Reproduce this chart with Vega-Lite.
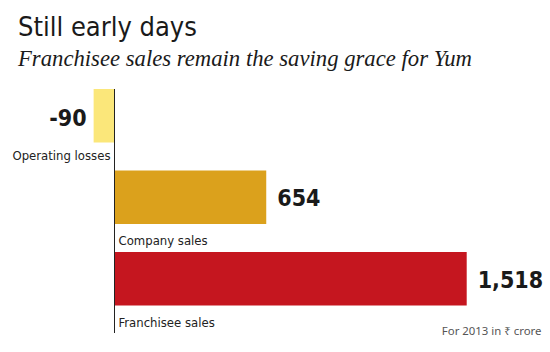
{
  "$schema": "https://vega.github.io/schema/vega-lite/v6.json",
  "width": 550,
  "height": 244,
  "autosize": {"type": "none"},
  "padding": {"left": 0, "top": 89, "right": 0, "bottom": 19},
  "background": "white",
  "title": {
    "text": "Still early days",
    "subtitle": "Franchisee sales remain the saving grace for Yum",
    "anchor": "start",
    "frame": "group",
    "dx": 18,
    "offset": 17,
    "font": "DejaVu Sans Condensed",
    "fontSize": 27,
    "fontWeight": "normal",
    "color": "#1a1a1a",
    "subtitleFont": "Liberation Serif",
    "subtitleFontStyle": "italic",
    "subtitleFontSize": 22.7,
    "subtitleColor": "#1a1a1a",
    "subtitlePadding": 6
  },
  "config": {
    "view": {"stroke": null},
    "locale": {
      "number": {"decimal": ".", "thousands": ",", "grouping": [3], "currency": ["", ""], "minus": "-"}
    }
  },
  "data": {
    "values": [
      {"category": "Operating losses", "value": -90},
      {"category": "Company sales", "value": 654},
      {"category": "Franchisee sales", "value": 1518}
    ]
  },
  "layer": [
    {
      "mark": {"type": "bar"},
      "encoding": {
        "y": {
          "field": "category", "type": "nominal",
          "sort": ["Operating losses", "Company sales", "Franchisee sales"],
          "scale": {"paddingInner": 0.344, "paddingOuter": 0.169, "align": 0},
          "axis": null
        },
        "x": {
          "field": "value", "type": "quantitative",
          "scale": {"domain": [-493.5, 1877], "nice": false, "zero": false},
          "axis": {
            "domain": false, "ticks": false, "labels": false, "grid": false,
            "title": "For 2013 in ₹ crore",
            "titleX": 541, "titleY": 1,
            "titleAlign": "right", "titleBaseline": "alphabetic",
            "titleFont": "Noto Sans", "titleFontSize": 11.4,
            "titleFontWeight": "normal", "titleColor": "#555555"
          }
        },
        "color": {
          "field": "category", "type": "nominal",
          "scale": {
            "domain": ["Operating losses", "Company sales", "Franchisee sales"],
            "range": ["#FBE77A", "#DBA11C", "#C5161F"]
          },
          "legend": null
        }
      }
    },
    {
      "mark": {"type": "rule", "color": "#222222", "strokeWidth": 1},
      "encoding": {"x": {"datum": 0, "type": "quantitative"}}
    },
    {
      "transform": [{"filter": "datum.value < 0"}],
      "mark": {"type": "text", "align": "right", "baseline": "middle", "dx": -7, "dy": 3,
               "font": "DejaVu Sans Condensed", "fontSize": 23, "fontWeight": "bold", "color": "#1a1a1a"},
      "encoding": {
        "y": {"field": "category", "type": "nominal", "sort": ["Operating losses", "Company sales", "Franchisee sales"], "axis": null},
        "x": {"field": "value", "type": "quantitative"},
        "text": {"field": "value", "type": "quantitative", "format": ",d"}
      }
    },
    {
      "transform": [{"filter": "datum.value >= 0"}],
      "mark": {"type": "text", "align": "left", "baseline": "middle", "dx": 11, "dy": 2,
               "font": "DejaVu Sans Condensed", "fontSize": 23, "fontWeight": "bold", "color": "#1a1a1a"},
      "encoding": {
        "y": {"field": "category", "type": "nominal", "sort": ["Operating losses", "Company sales", "Franchisee sales"], "axis": null},
        "x": {"field": "value", "type": "quantitative"},
        "text": {"field": "value", "type": "quantitative", "format": ",d"}
      }
    },
    {
      "transform": [{"filter": "datum.value < 0"}],
      "mark": {"type": "text", "align": "right", "baseline": "alphabetic", "dx": -4, "dy": 44,
               "font": "DejaVu Sans Condensed", "fontSize": 13, "color": "#222222"},
      "encoding": {
        "y": {"field": "category", "type": "nominal", "sort": ["Operating losses", "Company sales", "Franchisee sales"], "axis": null},
        "x": {"datum": 0, "type": "quantitative"},
        "text": {"field": "category", "type": "nominal"}
      }
    },
    {
      "transform": [{"filter": "datum.value >= 0"}],
      "mark": {"type": "text", "align": "left", "baseline": "alphabetic", "dx": 4, "dy": 48,
               "font": "DejaVu Sans Condensed", "fontSize": 13, "color": "#222222"},
      "encoding": {
        "y": {"field": "category", "type": "nominal", "sort": ["Operating losses", "Company sales", "Franchisee sales"], "axis": null},
        "x": {"datum": 0, "type": "quantitative"},
        "text": {"field": "category", "type": "nominal"}
      }
    }
  ]
}
